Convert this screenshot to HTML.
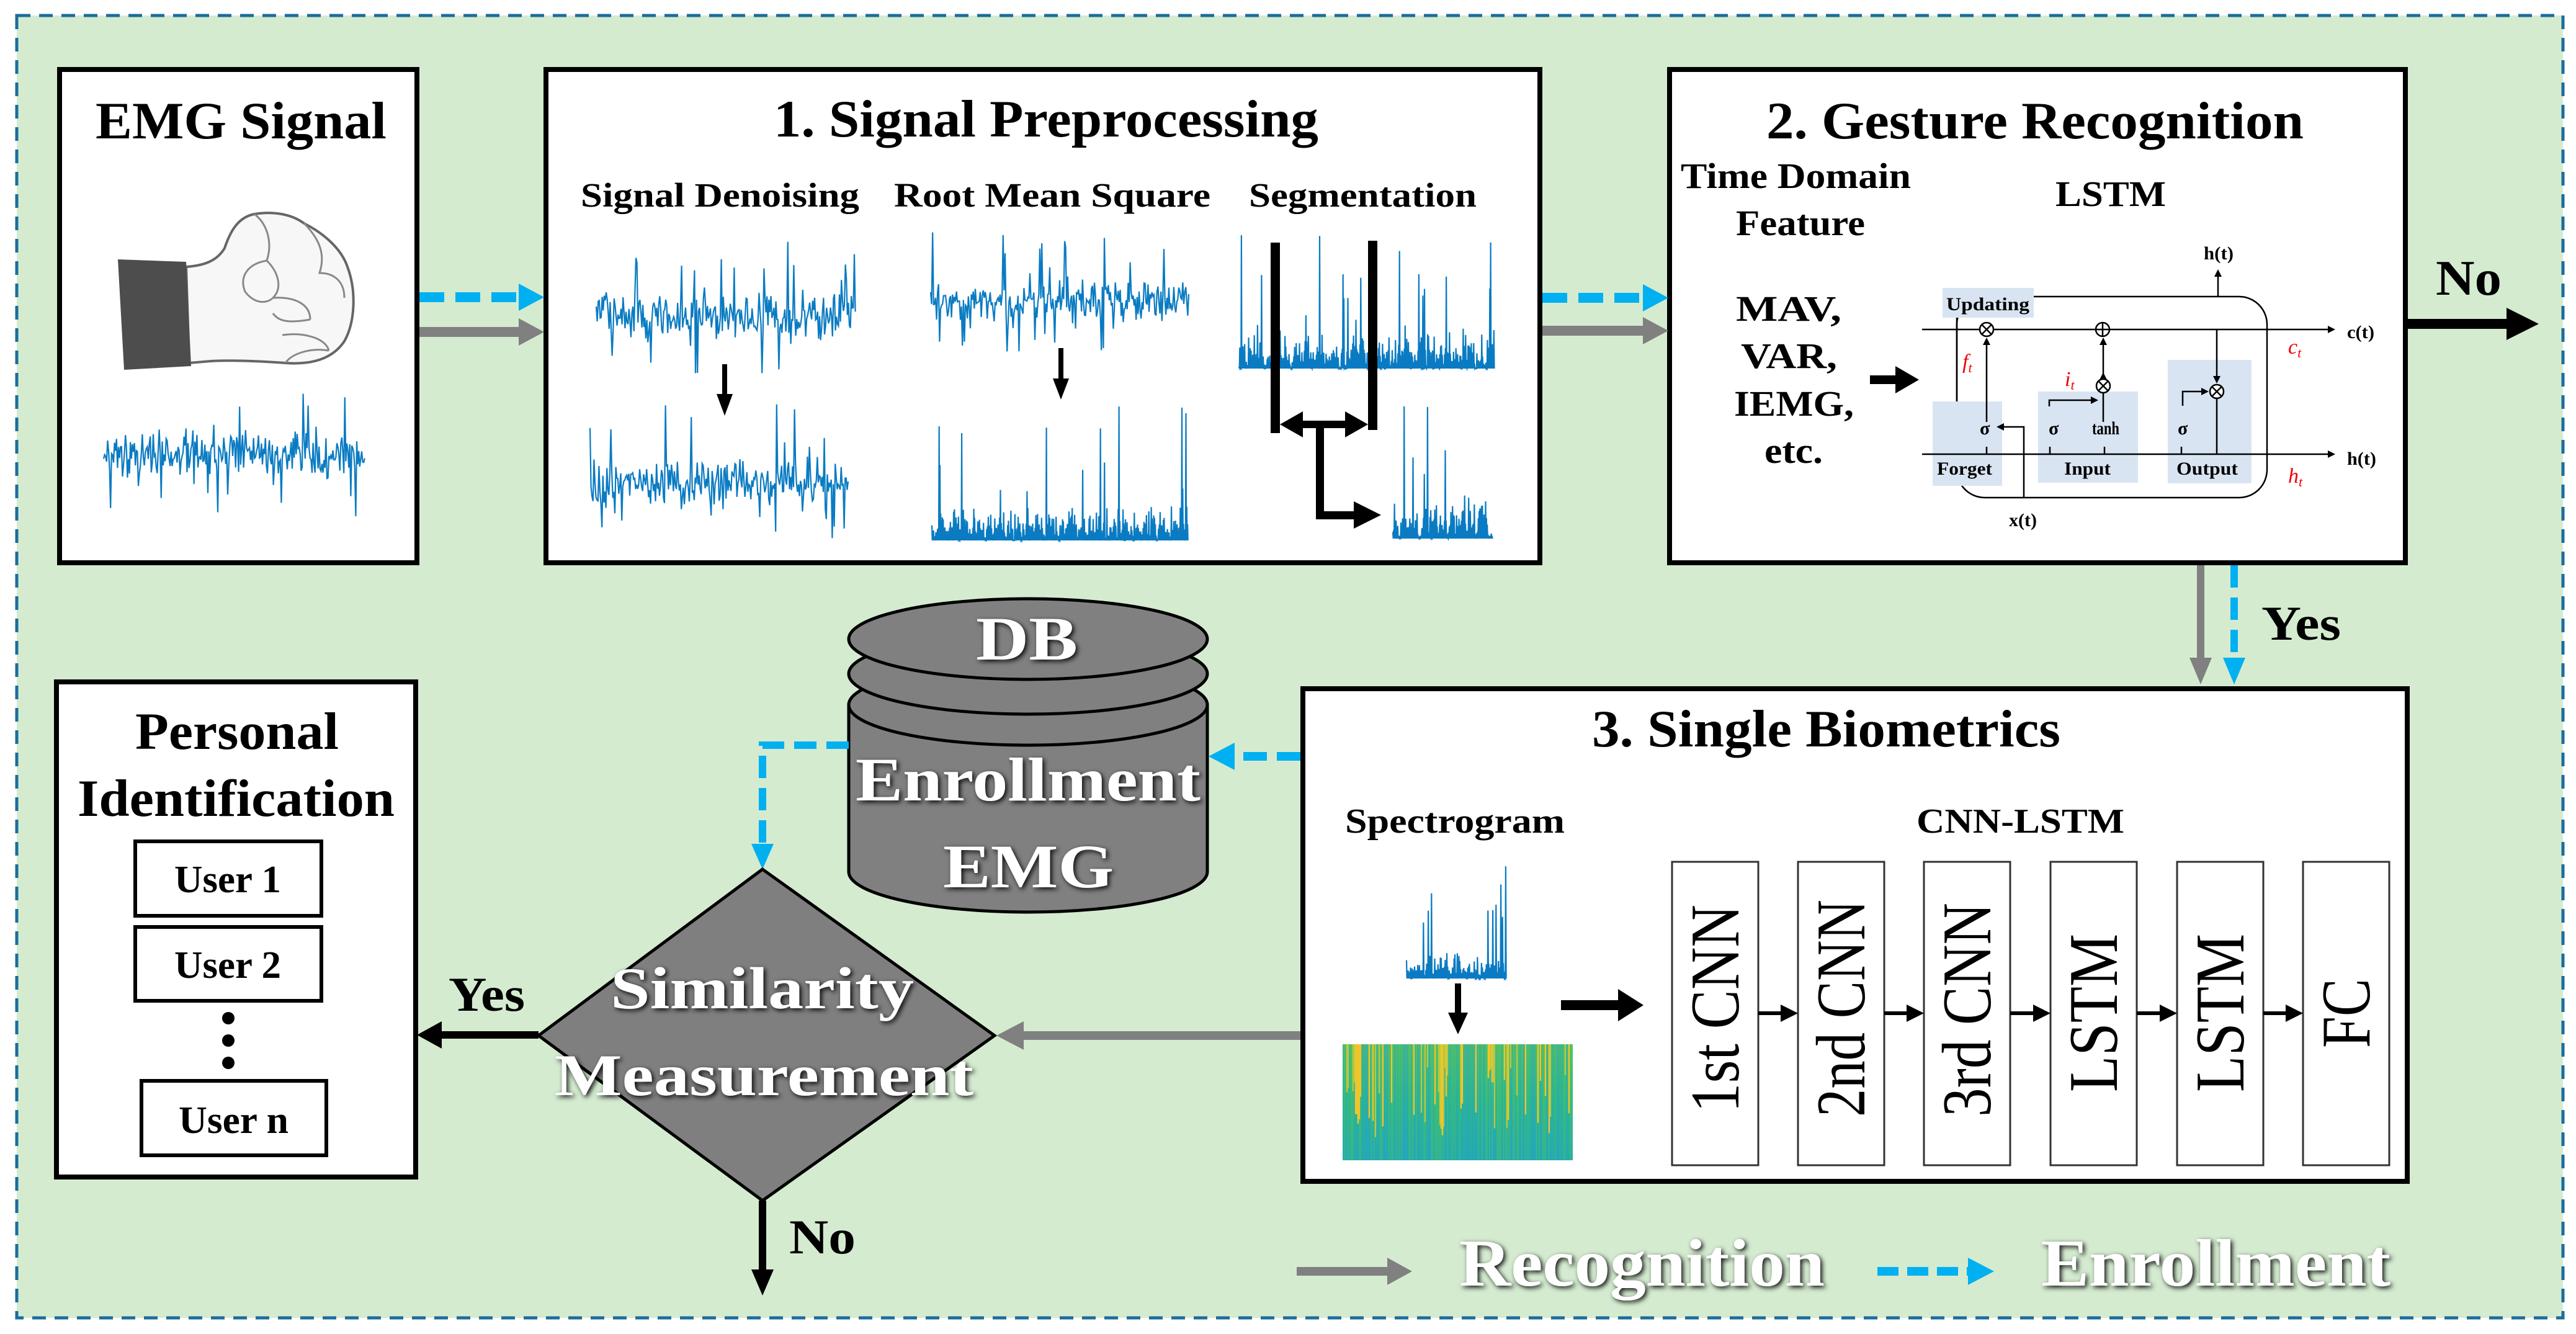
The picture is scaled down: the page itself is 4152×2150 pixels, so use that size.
<!DOCTYPE html>
<html><head><meta charset="utf-8">
<style>
html,body{margin:0;padding:0;background:#fff;}
svg{display:block;}
text{font-family:"Liberation Serif",serif;}
.b{font-weight:bold;}
</style></head>
<body>
<svg id="s" xmlns="http://www.w3.org/2000/svg" width="4152" height="2150" viewBox="0 0 4152 2150">
<defs>
<filter id="sh" x="-20%" y="-30%" width="140%" height="160%">
<feDropShadow dx="3" dy="3" stdDeviation="4" flood-color="#000" flood-opacity="0.95"/>
</filter>
<linearGradient id="spg" x1="0" y1="0" x2="0" y2="1">
<stop offset="0" stop-color="#5cc45a"/><stop offset="0.5" stop-color="#2db88a"/><stop offset="1" stop-color="#22a8b8"/>
</linearGradient>
</defs>
<rect width="4152" height="2150" fill="#fff"/>
<rect x="27" y="25" width="4104" height="2099" fill="#d4ebd0" stroke="#1b6d9c" stroke-width="5" stroke-dasharray="22 14"/>

<rect x="96" y="112" width="576" height="795" fill="#fff" stroke="#000" stroke-width="8"/>
<rect x="880" y="112" width="1602" height="795" fill="#fff" stroke="#000" stroke-width="8"/>
<rect x="2691" y="112" width="1186" height="795" fill="#fff" stroke="#000" stroke-width="8"/>
<rect x="91" y="1099" width="579" height="798" fill="#fff" stroke="#000" stroke-width="8"/>
<rect x="2100" y="1110" width="1780" height="794" fill="#fff" stroke="#000" stroke-width="8"/>

<text class="b" x="154" y="223" font-size="85" textLength="469" lengthAdjust="spacingAndGlyphs">EMG Signal</text>
<g>
<path d="M300,430 C330,428 350,420 362,400 C372,370 385,350 410,345 C440,340 470,345 490,360 C520,375 550,400 560,430 C575,470 572,520 555,550 C535,580 500,588 460,585 C420,582 380,580 340,582 L305,585 Z" fill="#f7f7f7" stroke="#666" stroke-width="4"/>
<path d="M410,345 C430,360 440,390 430,420 M430,420 C450,440 455,465 440,480 M440,480 C475,478 500,490 500,515 M500,515 C470,520 450,520 440,505 M455,540 C490,535 525,545 530,565 M460,585 C470,570 500,560 530,565 M490,360 C515,385 525,410 515,440 C540,440 555,455 555,480 M430,420 C400,425 385,445 395,470 C410,490 430,490 440,480" fill="none" stroke="#888" stroke-width="3"/>
<path d="M190,418 L300,422 L308,590 L200,596 Z" fill="#4d4d4d"/>
</g>
<g id="sigs"></g>

<text class="b" x="1247" y="220" font-size="85" textLength="878" lengthAdjust="spacingAndGlyphs">1. Signal Preprocessing</text>
<text class="b" x="936" y="333" font-size="55" textLength="449" lengthAdjust="spacingAndGlyphs">Signal Denoising</text>
<text class="b" x="1441" y="333" font-size="55" textLength="510" lengthAdjust="spacingAndGlyphs">Root Mean Square</text>
<text class="b" x="2013" y="333" font-size="55" textLength="367" lengthAdjust="spacingAndGlyphs">Segmentation</text>
<line x1="1168" y1="587" x2="1168" y2="640" stroke="#000" stroke-width="8"/>
<polygon points="1155,635 1181,635 1168,670" fill="#000"/>
<line x1="1710" y1="561" x2="1710" y2="615" stroke="#000" stroke-width="8"/>
<polygon points="1697,610 1723,610 1710,644" fill="#000"/>

<text class="b" x="2847" y="223" font-size="85" textLength="866" lengthAdjust="spacingAndGlyphs">2. Gesture Recognition</text>
<text class="b" x="2709" y="303" font-size="58" textLength="371" lengthAdjust="spacingAndGlyphs">Time Domain</text>
<text class="b" x="2798" y="379" font-size="58" textLength="208" lengthAdjust="spacingAndGlyphs">Feature</text>
<text class="b" x="3313" y="332" font-size="58" textLength="178" lengthAdjust="spacingAndGlyphs">LSTM</text>
<text class="b" x="2798" y="517" font-size="58" textLength="170" lengthAdjust="spacingAndGlyphs">MAV,</text>
<text class="b" x="2806" y="593" font-size="58" textLength="155" lengthAdjust="spacingAndGlyphs">VAR,</text>
<text class="b" x="2795" y="670" font-size="58" textLength="193" lengthAdjust="spacingAndGlyphs">IEMG,</text>
<text class="b" x="2844" y="746" font-size="58" textLength="94" lengthAdjust="spacingAndGlyphs">etc.</text>
<line x1="3014" y1="612" x2="3060" y2="612" stroke="#000" stroke-width="14"/>
<polygon points="3055,590 3093,612 3055,634" fill="#000"/>

<g stroke="#000" stroke-width="2.5" fill="none">
<rect x="3154" y="478" width="500" height="324" rx="45"/>
</g>
<rect x="3131" y="464" width="147" height="48" fill="#d9e4f2"/>
<rect x="3115" y="647" width="112" height="136" fill="#d9e4f2"/>
<rect x="3285" y="631" width="161" height="147" fill="#d9e4f2"/>
<rect x="3494" y="580" width="135" height="199" fill="#d9e4f2"/>
<g font-size="30" font-weight="bold">
<text x="3137" y="500" textLength="134" lengthAdjust="spacingAndGlyphs">Updating</text>
<text x="3122" y="765" textLength="89" lengthAdjust="spacingAndGlyphs">Forget</text>
<text x="3327" y="765" textLength="75" lengthAdjust="spacingAndGlyphs">Input</text>
<text x="3508" y="765" textLength="99" lengthAdjust="spacingAndGlyphs">Output</text>
<text x="3191" y="700">σ</text><text x="3302" y="700">σ</text>
<text x="3372" y="700" textLength="44" lengthAdjust="spacingAndGlyphs">tanh</text>
<text x="3510" y="700">σ</text>
<text x="3238" y="848" textLength="45" lengthAdjust="spacingAndGlyphs">x(t)</text>
<text x="3552" y="418" textLength="48" lengthAdjust="spacingAndGlyphs">h(t)</text>
<text x="3783" y="545" textLength="44" lengthAdjust="spacingAndGlyphs">c(t)</text>
<text x="3783" y="749" textLength="47" lengthAdjust="spacingAndGlyphs">h(t)</text>
</g>
<g font-size="34" font-style="italic" fill="#e00">
<text x="3163" y="594">f<tspan font-size="22" dy="6">t</tspan></text>
<text x="3328" y="622">i<tspan font-size="22" dy="6">t</tspan></text>
<text x="3688" y="570">c<tspan font-size="22" dy="6">t</tspan></text>
<text x="3688" y="778">h<tspan font-size="22" dy="6">t</tspan></text>
</g>
<g stroke="#000" stroke-width="2.5" fill="none">
<line x1="3098" y1="531" x2="3752" y2="531"/>
<line x1="3098" y1="732" x2="3752" y2="732"/>
<line x1="3154" y1="512" x2="3154" y2="647"/>
<line x1="3202" y1="680" x2="3202" y2="552"/>
<line x1="3390" y1="680" x2="3390" y2="633"/>
<line x1="3390" y1="611" x2="3390" y2="552"/>
<polyline points="3303,655 3303,645 3370,645"/>
<line x1="3573" y1="531" x2="3573" y2="612"/>
<polyline points="3518,654 3518,631 3552,631"/>
<line x1="3573" y1="642" x2="3573" y2="732"/>
<line x1="3575" y1="478" x2="3575" y2="444"/>
<polyline points="3262,802 3262,688 3228,688"/>
<line x1="3202" y1="720" x2="3202" y2="732"/><line x1="3304" y1="720" x2="3304" y2="732"/>
<line x1="3392" y1="720" x2="3392" y2="732"/><line x1="3516" y1="720" x2="3516" y2="732"/>
<circle cx="3202" cy="531" r="11" fill="#fff"/><circle cx="3389" cy="531" r="11" fill="#fff"/>
<circle cx="3390" cy="622" r="11" fill="#fff"/><circle cx="3573" cy="631" r="11" fill="#fff"/>
<path d="M3194,523 L3210,539 M3210,523 L3194,539 M3389,520 V542 M3378,531 H3400 M3382,614 L3398,630 M3398,614 L3382,630 M3565,623 L3581,639 M3581,623 L3565,639"/>
</g>
<g fill="#000">
<polygon points="3752,525 3764,531 3752,537"/><polygon points="3752,726 3764,732 3752,738"/>
<polygon points="3196,556 3202,544 3208,556"/><polygon points="3384,612 3390,600 3396,612"/>
<polygon points="3384,556 3390,544 3396,556"/><polygon points="3567,606 3573,618 3579,606"/>
<polygon points="3548,625 3560,631 3548,637"/><polygon points="3370,639 3382,645 3370,651"/>
<polygon points="3569,446 3575,434 3581,446"/><polygon points="3230,682 3218,688 3230,694"/>
</g>
<text class="b" x="3926" y="475" font-size="80" textLength="106" lengthAdjust="spacingAndGlyphs">No</text>
<line x1="3881" y1="522" x2="4045" y2="522" stroke="#000" stroke-width="16"/>
<polygon points="4040,496 4092,522 4040,548" fill="#000"/>

<line x1="676" y1="479" x2="838" y2="479" stroke="#00b0f0" stroke-width="16" stroke-dasharray="40 18"/>
<polygon points="836,457 877,479 836,501" fill="#00b0f0"/>
<line x1="676" y1="535" x2="838" y2="535" stroke="#808080" stroke-width="16"/>
<polygon points="836,513 877,535 836,557" fill="#808080"/>
<line x1="2486" y1="480" x2="2650" y2="480" stroke="#00b0f0" stroke-width="16" stroke-dasharray="40 18"/>
<polygon points="2648,458 2689,480 2648,502" fill="#00b0f0"/>
<line x1="2486" y1="533" x2="2650" y2="533" stroke="#808080" stroke-width="16"/>
<polygon points="2648,511 2689,533 2648,555" fill="#808080"/>

<g id="segsig"></g>
<g fill="#000">
<rect x="2048" y="391" width="15" height="307"/>
<rect x="2205" y="388" width="15" height="305"/>
<rect x="2094" y="678" width="78" height="12"/>
<polygon points="2063,684 2100,663 2100,705"/>
<polygon points="2205,684 2168,663 2168,705"/>
<rect x="2121" y="684" width="13" height="152"/>
<rect x="2121" y="824" width="65" height="13"/>
<polygon points="2182,808 2226,830 2182,852"/>
</g>

<line x1="3547" y1="911" x2="3547" y2="1062" stroke="#808080" stroke-width="12"/>
<polygon points="3529,1060 3565,1060 3547,1103" fill="#808080"/>
<line x1="3601" y1="911" x2="3601" y2="1062" stroke="#00b0f0" stroke-width="12" stroke-dasharray="36 16"/>
<polygon points="3583,1060 3619,1060 3601,1103" fill="#00b0f0"/>
<text class="b" x="3645" y="1031" font-size="78" textLength="128" lengthAdjust="spacingAndGlyphs">Yes</text>

<text class="b" x="2566" y="1203" font-size="85" textLength="755" lengthAdjust="spacingAndGlyphs">3. Single Biometrics</text>
<text class="b" x="2168" y="1342" font-size="56" textLength="354" lengthAdjust="spacingAndGlyphs">Spectrogram</text>
<text class="b" x="3089" y="1342" font-size="56" textLength="335" lengthAdjust="spacingAndGlyphs">CNN-LSTM</text>
<line x1="2350" y1="1585" x2="2350" y2="1635" stroke="#000" stroke-width="10"/>
<polygon points="2334,1632 2366,1632 2350,1667" fill="#000"/>
<rect x="2164" y="1683" width="371" height="187" fill="url(#spg)"/>
<g id="spec"></g>
<line x1="2516" y1="1620" x2="2612" y2="1620" stroke="#000" stroke-width="16"/>
<polygon points="2608,1594 2649,1620 2608,1646" fill="#000"/>
<g stroke="#333" stroke-width="3" fill="#fff">
<rect x="2695" y="1389" width="139" height="489"/>
<rect x="2898" y="1389" width="139" height="489"/>
<rect x="3101" y="1389" width="139" height="489"/>
<rect x="3305" y="1389" width="139" height="489"/>
<rect x="3509" y="1389" width="139" height="489"/>
<rect x="3712" y="1389" width="139" height="489"/>
</g>
<g font-size="112">
<text transform="translate(2802,1793) rotate(-90)" textLength="335" lengthAdjust="spacingAndGlyphs">1st CNN</text>
<text transform="translate(3005,1800) rotate(-90)" textLength="350" lengthAdjust="spacingAndGlyphs">2nd CNN</text>
<text transform="translate(3208,1800) rotate(-90)" textLength="345" lengthAdjust="spacingAndGlyphs">3rd CNN</text>
<text transform="translate(3412,1760) rotate(-90)" textLength="255" lengthAdjust="spacingAndGlyphs">LSTM</text>
<text transform="translate(3616,1760) rotate(-90)" textLength="255" lengthAdjust="spacingAndGlyphs">LSTM</text>
<text transform="translate(3819,1689) rotate(-90)" textLength="112" lengthAdjust="spacingAndGlyphs">FC</text>
</g>
<g fill="#000">
<rect x="2834" y="1630" width="40" height="6"/><polygon points="2870,1619 2898,1633 2870,1647"/>
<rect x="3037" y="1630" width="40" height="6"/><polygon points="3073,1619 3101,1633 3073,1647"/>
<rect x="3240" y="1630" width="40" height="6"/><polygon points="3277,1619 3305,1633 3277,1647"/>
<rect x="3444" y="1630" width="40" height="6"/><polygon points="3481,1619 3509,1633 3481,1647"/>
<rect x="3648" y="1630" width="40" height="6"/><polygon points="3684,1619 3712,1633 3684,1647"/>
</g>

<g stroke="#000" stroke-width="5" fill="#808080">
<path d="M1368,1136 V1405 A289,65 0 0 0 1946,1405 V1136 Z"/>
<ellipse cx="1657" cy="1136" rx="289" ry="65"/>
<ellipse cx="1657" cy="1086" rx="289" ry="65"/>
<ellipse cx="1657" cy="1030" rx="289" ry="65"/>
</g>
<g fill="#fff" filter="url(#sh)">
<text class="b" x="1573" y="1063" font-size="100" textLength="164" lengthAdjust="spacingAndGlyphs">DB</text>
<text class="b" x="1379" y="1290" font-size="100" textLength="556" lengthAdjust="spacingAndGlyphs">Enrollment</text>
<text class="b" x="1520" y="1430" font-size="100" textLength="275" lengthAdjust="spacingAndGlyphs">EMG</text>
</g>
<line x1="2096" y1="1219" x2="1990" y2="1219" stroke="#00b0f0" stroke-width="14" stroke-dasharray="38 16"/>
<polygon points="1990,1197 1948,1219 1990,1241" fill="#00b0f0"/>
<polyline points="1368,1201 1229,1201 1229,1362" fill="none" stroke="#00b0f0" stroke-width="12" stroke-dasharray="36 16"/>
<polygon points="1211,1360 1247,1360 1229,1401" fill="#00b0f0"/>

<polygon points="1229,1401 1603,1669 1229,1935 868,1669" fill="#7f7f7f" stroke="#000" stroke-width="5"/>
<g fill="#fff" filter="url(#sh)">
<text class="b" x="984" y="1625" font-size="95" textLength="489" lengthAdjust="spacingAndGlyphs">Similarity</text>
<text class="b" x="894" y="1765" font-size="95" textLength="675" lengthAdjust="spacingAndGlyphs">Measurement</text>
</g>
<line x1="2096" y1="1669" x2="1648" y2="1669" stroke="#808080" stroke-width="14"/>
<polygon points="1650,1646 1606,1669 1650,1692" fill="#808080"/>
<line x1="868" y1="1668" x2="708" y2="1668" stroke="#000" stroke-width="12"/>
<polygon points="712,1646 672,1668 712,1690" fill="#000"/>
<text class="b" x="723" y="1629" font-size="78" textLength="123" lengthAdjust="spacingAndGlyphs">Yes</text>
<line x1="1229" y1="1935" x2="1229" y2="2050" stroke="#000" stroke-width="12"/>
<polygon points="1211,2046 1247,2046 1229,2088" fill="#000"/>
<text class="b" x="1272" y="2020" font-size="78" textLength="107" lengthAdjust="spacingAndGlyphs">No</text>

<text class="b" x="218" y="1207" font-size="85" textLength="328" lengthAdjust="spacingAndGlyphs">Personal</text>
<text class="b" x="125" y="1315" font-size="85" textLength="511" lengthAdjust="spacingAndGlyphs">Identification</text>
<g fill="#fff" stroke="#000" stroke-width="6">
<rect x="218" y="1356" width="300" height="120"/>
<rect x="218" y="1494" width="300" height="119"/>
<rect x="228" y="1742" width="298" height="120"/>
</g>
<text class="b" x="281" y="1438" font-size="62" textLength="172" lengthAdjust="spacingAndGlyphs">User 1</text>
<text class="b" x="281" y="1576" font-size="62" textLength="172" lengthAdjust="spacingAndGlyphs">User 2</text>
<text class="b" x="288" y="1826" font-size="62" textLength="177" lengthAdjust="spacingAndGlyphs">User n</text>
<circle cx="368" cy="1641" r="10"/><circle cx="368" cy="1677" r="10"/><circle cx="368" cy="1713" r="10"/>

<line x1="2090" y1="2049" x2="2240" y2="2049" stroke="#808080" stroke-width="14"/>
<polygon points="2236,2027 2276,2049 2236,2071" fill="#808080"/>
<line x1="3026" y1="2049" x2="3176" y2="2049" stroke="#00b0f0" stroke-width="14" stroke-dasharray="34 14"/>
<polygon points="3172,2027 3214,2049 3172,2071" fill="#00b0f0"/>
<g fill="#fff" filter="url(#sh)">
<text class="b" x="2352" y="2072" font-size="108" textLength="589" lengthAdjust="spacingAndGlyphs">Recognition</text>
<text class="b" x="3290" y="2072" font-size="108" textLength="563" lengthAdjust="spacingAndGlyphs">Enrollment</text>
</g>
</svg>
<script>
(function(){
var NS="http://www.w3.org/2000/svg";
function rng(a){return function(){a|=0;a=a+0x6D2B79F5|0;var t=Math.imul(a^a>>>15,1|a);t=t+Math.imul(t^t>>>7,61|t)^t;return((t^t>>>14)>>>0)/4294967296;};}
var g=document.getElementById("sigs");
function poly(pts,col,w){var p=document.createElementNS(NS,"polyline");p.setAttribute("points",pts.join(" "));p.setAttribute("fill","none");p.setAttribute("stroke",col||"#0a7bc2");p.setAttribute("stroke-width",w||2.2);g.appendChild(p);}
function raw(x0,x1,yc,top,bot,seed){var r=rng(seed),pts=[],amp=(bot-top)*0.085;for(var x=x0;x<=x1;x+=1.6){var n=(r()+r()+r()-1.5)*2*amp;var q=r();if(q<0.04)n=-(0.45+0.55*r())*(yc-top);else if(q<0.075)n=(0.45+0.55*r())*(bot-yc);pts.push(x.toFixed(1)+","+(yc+n).toFixed(1));}poly(pts);}
function rms(x0,x1,base,band,top,seed){var r=rng(seed),pts=[];for(var x=x0;x<=x1;x+=1.3){var y=base-r()*band*(0.3+0.7*r());if(r()<0.05)y=base-(0.3+0.7*r())*(base-top);pts.push(x.toFixed(1)+","+y.toFixed(1));pts.push((x+0.65).toFixed(1)+","+base);}poly(pts);}
raw(167,589,734,616,833,11);
raw(961,1379,510,383,609,22);
raw(951,1368,778,651,868,33);
raw(1500,1917,485,373,568,44);
rms(1502,1915,871,60,644,55);
rms(1997,2408,594,65,374,66);
rms(2245,2405,868,75,644,77);
rms(2267,2428,1577,45,1382,88);
var sp=document.getElementById("spec"),r=rng(99);
for(var x=2165;x<2535;x+=2){var l=document.createElementNS(NS,"line");var c=r();l.setAttribute("x1",x);l.setAttribute("x2",x);l.setAttribute("y1",1683);l.setAttribute("y2",1870);l.setAttribute("stroke",c<0.33?"#2ab0a0":(c<0.66?"#48bf6a":"#25a6c0"));l.setAttribute("stroke-width",2);l.setAttribute("stroke-opacity",0.5);sp.appendChild(l);
if(r()<0.15||(x>2180&&x<2194)||(x>2318&&x<2332)||(x>2398&&x<2410)){var h=30+r()*120;var k=document.createElementNS(NS,"line");k.setAttribute("x1",x);k.setAttribute("x2",x);k.setAttribute("y1",1683);k.setAttribute("y2",1683+h);k.setAttribute("stroke",r()<0.5?"#f0c52a":"#b8c840");k.setAttribute("stroke-width",2.5);sp.appendChild(k);}}
})();
</script>
</body></html>
